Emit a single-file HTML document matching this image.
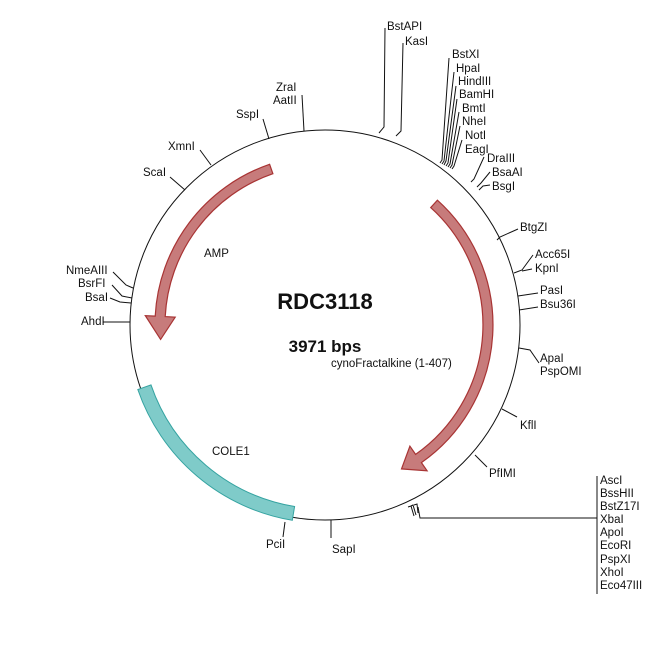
<!DOCTYPE html>
<html><head><meta charset="utf-8"><style>
html,body{margin:0;padding:0;background:#fff;}
svg text{font-family:"Liberation Sans",Arial,sans-serif;font-size:11.5px;fill:#111;}
</style></head><body>
<svg width="650" height="650" viewBox="0 0 650 650" xmlns="http://www.w3.org/2000/svg">
<circle cx="325" cy="325" r="195" fill="none" stroke="#111" stroke-width="1"/>
<path d="M 292.3 520.3 A198 198 0 0 1 137.8 389.5 L 151.0 384.9 A184 184 0 0 0 294.6 506.5 Z" fill="#7fcbc9" stroke="#35a3a1" stroke-width="1"/>
<path d="M 269.6 164.3 A170 170 0 0 0 155.2 316.1 L 145.3 315.6 L 160.6 339.4 L 175.2 317.2 L 165.2 316.6 A160 160 0 0 1 272.9 173.7 Z" fill="#c77b7b" stroke="#a83434" stroke-width="1.2"/>
<path d="M 437.4 200.2 A168 168 0 0 1 421.4 462.6 L 427.1 470.8 L 401.5 468.9 L 409.9 446.2 L 415.6 454.4 A158 158 0 0 0 430.7 207.6 Z" fill="#c77b7b" stroke="#a83434" stroke-width="1.2"/>
<g stroke="#111" stroke-width="1" fill="none">
<polyline points="385,28 384,127 379,133"/>
<polyline points="403,43 401,131 396,136"/>
<polyline points="449,58 442,160 440,163"/>
<polyline points="454,72 444,161 442,164"/>
<polyline points="456,86 446,161 444,165"/>
<polyline points="457,99 448,163 446,166"/>
<polyline points="459,112 450,164 448,167"/>
<polyline points="460,126 452,165 450,168"/>
<polyline points="462,140 454,166 452,169"/>
<polyline points="484,157 474,179 471,182"/>
<polyline points="490,172 481,183 477,187"/>
<polyline points="490,185 483,186 479,190"/>
<polyline points="518,229 500,237 497,240"/>
<polyline points="533,255 522,270 514,273"/>
<polyline points="532,269 522,271"/>
<polyline points="538,293 518,296"/>
<polyline points="538,307 519,310"/>
<polyline points="539,363 530,350 519,348"/>
<polyline points="517,417 502,409"/>
<polyline points="487,467 475,455"/>
<polyline points="408,507 411,506 414,516"/>
<polyline points="411,506 413,505 416,515"/>
<polyline points="414,505 417,504 418,513"/>
<polyline points="418,507 420,518 597,518"/>
<line x1="597" y1="476" x2="597" y2="594"/>
<line x1="285" y1="522" x2="283" y2="537"/>
<line x1="331" y1="520" x2="331" y2="538"/>
<line x1="103" y1="322" x2="130" y2="322"/>
<polyline points="110,298 120,302 131,303"/>
<polyline points="112,285 122,296 132,298"/>
<polyline points="113,272 126,285 133,288"/>
<line x1="170" y1="177" x2="185" y2="190"/>
<line x1="200" y1="150" x2="211" y2="165"/>
<line x1="263" y1="119" x2="269" y2="139"/>
<line x1="302" y1="95" x2="304" y2="131"/>
</g>
<text x="387" y="30">BstAPI</text>
<text x="405" y="45">KasI</text>
<text x="452" y="58">BstXI</text>
<text x="456" y="72">HpaI</text>
<text x="458" y="85">HindIII</text>
<text x="459" y="98">BamHI</text>
<text x="462" y="112">BmtI</text>
<text x="462" y="125">NheI</text>
<text x="465" y="139">NotI</text>
<text x="465" y="153">EagI</text>
<text x="487" y="162">DraIII</text>
<text x="492" y="176">BsaAI</text>
<text x="492" y="190">BsgI</text>
<text x="520" y="231">BtgZI</text>
<text x="535" y="258">Acc65I</text>
<text x="535" y="272">KpnI</text>
<text x="540" y="294">PasI</text>
<text x="540" y="308">Bsu36I</text>
<text x="540" y="362">ApaI</text>
<text x="540" y="375">PspOMI</text>
<text x="520" y="429">KflI</text>
<text x="489" y="477">PfIMI</text>
<text x="600" y="484">AscI</text>
<text x="600" y="497">BssHII</text>
<text x="600" y="510">BstZ17I</text>
<text x="600" y="523">XbaI</text>
<text x="600" y="536">ApoI</text>
<text x="600" y="549">EcoRI</text>
<text x="600" y="563">PspXI</text>
<text x="600" y="576">XhoI</text>
<text x="600" y="589">Eco47III</text>
<text x="266" y="548">PciI</text>
<text x="332" y="553">SapI</text>
<text x="81" y="325">AhdI</text>
<text x="85" y="301">BsaI</text>
<text x="78" y="287">BsrFI</text>
<text x="66" y="274">NmeAIII</text>
<text x="143" y="176">ScaI</text>
<text x="168" y="150">XmnI</text>
<text x="236" y="118">SspI</text>
<text x="276" y="91">ZraI</text>
<text x="273" y="104">AatII</text>
<text x="204" y="257">AMP</text>
<text x="212" y="455">COLE1</text>
<text x="331" y="367">cynoFractalkine (1-407)</text>
<text x="325" y="309" text-anchor="middle" style="font-size:22px;font-weight:bold">RDC3118</text>
<text x="325" y="352" text-anchor="middle" style="font-size:17px;font-weight:bold">3971 bps</text>
</svg>
</body></html>
